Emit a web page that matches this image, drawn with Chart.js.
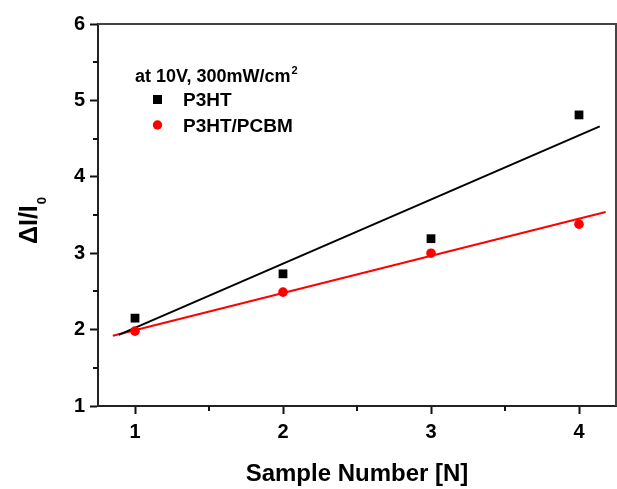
<!DOCTYPE html>
<html>
<head>
<meta charset="utf-8">
<script src="https://cdn.jsdelivr.net/npm/chart.js@4"></script>
<style>
  html, body { margin: 0; padding: 0; background: #fff; }
  #wrap { width: 617px; height: 489px; }
</style>
</head>
<body>
<div id="wrap"><canvas id="myChart" width="617" height="489"></canvas></div>
<script>
// Measured response per sample
const samples = [1, 2, 3, 4];
const p3htValues = [2.15, 2.73, 3.19, 4.81];
const pcbmValues = [1.98, 2.49, 3.00, 3.38];

// Linear fit lines (end points)
const p3htFitX = [0.89, 4.14];
const p3htFitY = [1.93, 4.66];
const pcbmFitX = [0.85, 4.18];
const pcbmFitY = [1.92, 3.54];

// Axis ticks
const xMajorTicks = [1, 2, 3, 4];
const xMinorTicks = [1.5, 2.5, 3.5];
const yMajorTicks = [1, 2, 3, 4, 5, 6];
const yMinorTicks = [1.5, 2.5, 3.5, 4.5, 5.5];

const seriesNames = ['P3HT', 'P3HT/PCBM'];

const FONT = "'Liberation Sans', Arial, sans-serif";
const RED = '#ff0000';

const toPoints = (xs, ys) => xs.map((x, i) => ({ x: x, y: ys[i] }));
const isMajor = v => Number.isInteger(v);

// Frame, minor ticks, y title and the in-plot legend
const decorations = {
  id: 'decorations',
  afterDraw(chart) {
    const { ctx, chartArea: { left, top, right, bottom }, scales: { x, y } } = chart;
    ctx.save();

    // top and right frame lines
    ctx.strokeStyle = '#444';
    ctx.lineWidth = 2;
    ctx.beginPath();
    ctx.moveTo(left, top);
    ctx.lineTo(right, top);
    ctx.lineTo(right, bottom);
    ctx.stroke();

    // minor ticks
    ctx.strokeStyle = '#111';
    ctx.beginPath();
    xMinorTicks.forEach(v => {
      const px = Math.round(x.getPixelForValue(v));
      ctx.moveTo(px, bottom);
      ctx.lineTo(px, bottom + 5);
    });
    yMinorTicks.forEach(v => {
      const py = Math.round(y.getPixelForValue(v));
      ctx.moveTo(left, py);
      ctx.lineTo(left - 5, py);
    });
    ctx.stroke();

    // y axis title with subscript
    ctx.fillStyle = '#000';
    ctx.translate(37, 244);
    ctx.rotate(-Math.PI / 2);
    ctx.font = 'bold 25px ' + FONT;
    ctx.textAlign = 'left';
    ctx.textBaseline = 'alphabetic';
    ctx.fillText('\u0394I/I', 0, 0);
    const w = ctx.measureText('\u0394I/I').width;
    ctx.font = 'bold 13px ' + FONT;
    ctx.fillText('0', w + 1, 9);
    ctx.setTransform(1, 0, 0, 1, 0, 0);

    // legend
    ctx.font = 'bold 18px ' + FONT;
    ctx.fillText('at 10V, 300mW/cm', 135, 82);
    const tw = ctx.measureText('at 10V, 300mW/cm').width;
    ctx.font = 'bold 11px ' + FONT;
    ctx.fillText('2', 135 + tw + 1, 74);
    ctx.font = 'bold 19px ' + FONT;
    ctx.fillText(seriesNames[0], 183, 106);
    ctx.fillText(seriesNames[1], 183, 132);
    ctx.fillStyle = '#000';
    ctx.fillRect(153, 95, 9, 9);
    ctx.fillStyle = RED;
    ctx.beginPath();
    ctx.arc(157.5, 125, 4.7, 0, Math.PI * 2);
    ctx.fill();

    ctx.restore();
  }
};

const ctx = document.getElementById('myChart').getContext('2d');

window.myChart = new Chart(ctx, {
  type: 'scatter',
  data: {
    datasets: [
      {
        label: seriesNames[0],
        data: toPoints(samples, p3htValues),
        pointStyle: 'rect',
        pointRadius: 6.2,
        backgroundColor: '#000',
        borderColor: '#000',
        borderWidth: 0
      },
      {
        label: seriesNames[1],
        data: toPoints(samples, pcbmValues),
        pointStyle: 'circle',
        pointRadius: 4.8,
        backgroundColor: RED,
        borderColor: RED,
        borderWidth: 0
      },
      {
        label: seriesNames[0] + ' fit',
        data: toPoints(p3htFitX, p3htFitY),
        showLine: true,
        pointRadius: 0,
        borderColor: '#000',
        borderWidth: 2
      },
      {
        label: seriesNames[1] + ' fit',
        data: toPoints(pcbmFitX, pcbmFitY),
        showLine: true,
        pointRadius: 0,
        borderColor: RED,
        borderWidth: 2
      }
    ]
  },
  options: {
    responsive: false,
    animation: false,
    layout: { autoPadding: false, padding: { top: 24, right: 1, left: 0, bottom: 0 } },
    plugins: {
      legend: { display: false },
      tooltip: { enabled: false }
    },
    scales: {
      x: {
        type: 'linear',
        min: 0.75,
        max: 4.25,
        afterBuildTicks: scale => { scale.ticks = xMajorTicks.map(v => ({ value: v })); },
        afterFit: scale => {
          scale.height = 83;
          scale.paddingLeft = 0;
          scale.paddingRight = 0;
        },
        ticks: {
          color: '#000',
          padding: 6,
          font: { family: FONT, size: 20, weight: 'bold' },
          callback: v => (isMajor(v) ? v : '')
        },
        grid: { drawOnChartArea: false, drawTicks: true, tickLength: 8, tickWidth: 2, tickColor: '#111' },
        border: { display: true, width: 2, color: '#222' },
        title: {
          display: true,
          text: 'Sample Number [N]',
          color: '#000',
          padding: { top: 0, bottom: 0 },
          font: { family: FONT, size: 24, weight: 'bold' }
        }
      },
      y: {
        type: 'linear',
        min: 1,
        max: 6,
        afterBuildTicks: scale => { scale.ticks = yMajorTicks.map(v => ({ value: v })); },
        afterFit: scale => { scale.width = 98; },
        ticks: {
          color: '#000',
          padding: 5,
          font: { family: FONT, size: 20, weight: 'bold' }
        },
        grid: { drawOnChartArea: false, drawTicks: true, tickLength: 8, tickWidth: 2, tickColor: '#111' },
        border: { display: true, width: 2, color: '#222' }
      }
    }
  },
  plugins: [decorations]
});
</script>
</body>
</html>
